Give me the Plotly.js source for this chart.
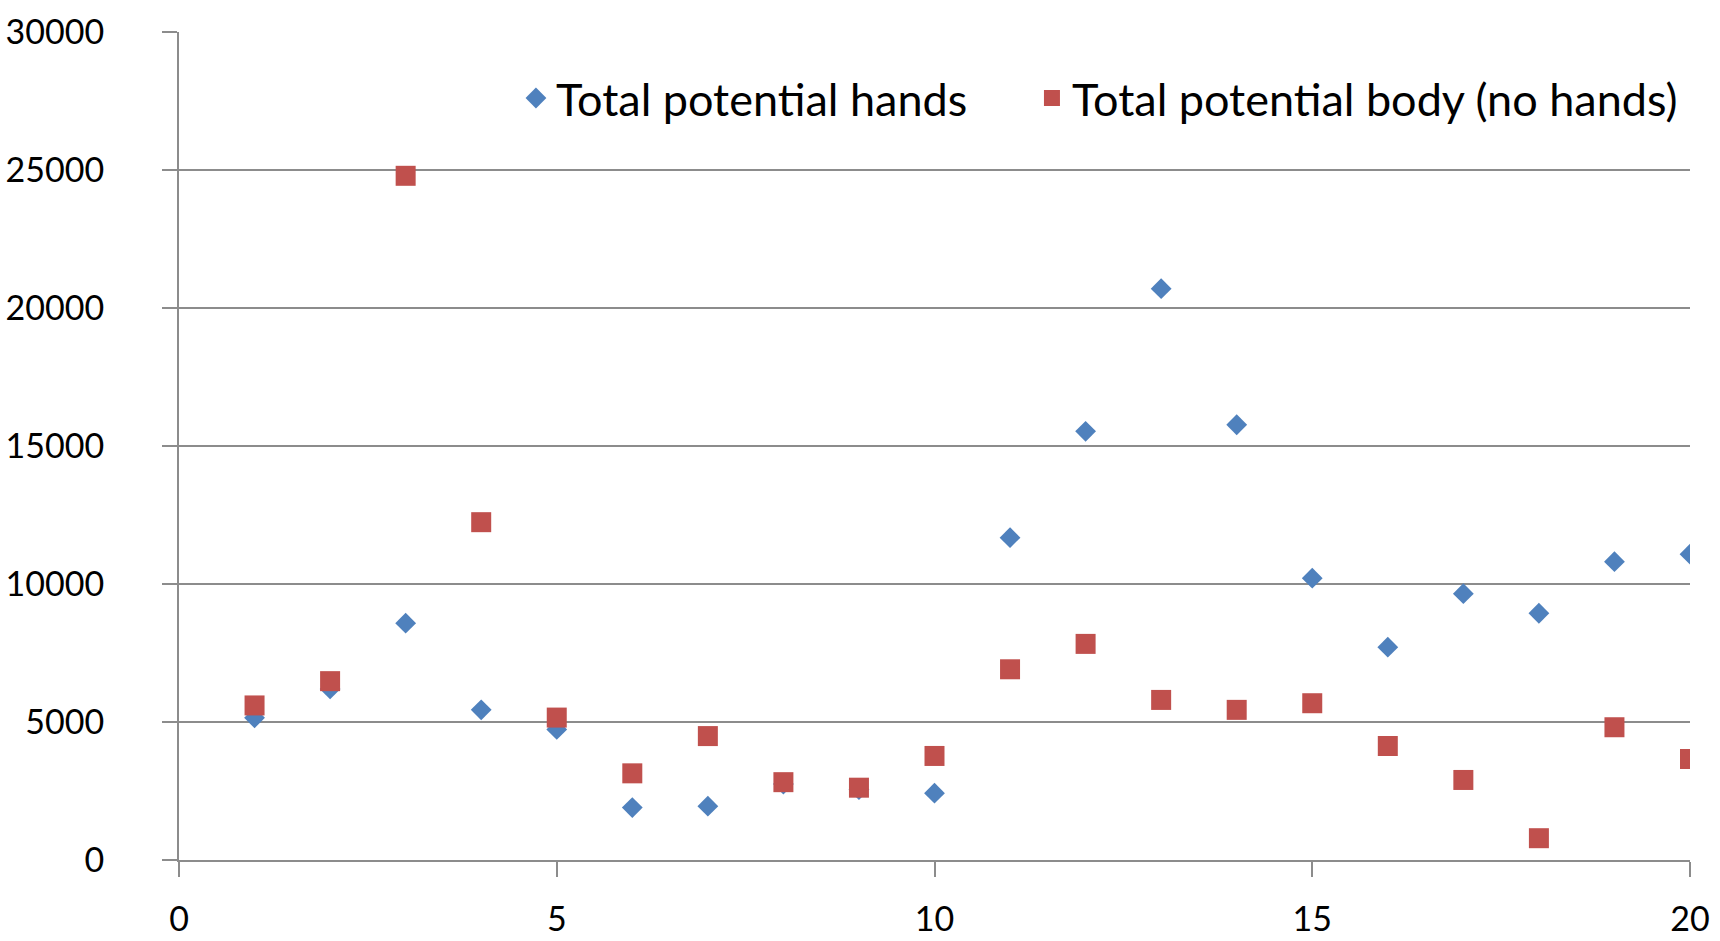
<!DOCTYPE html>
<html>
<head>
<meta charset="utf-8">
<script src="https://cdn.plot.ly/plotly-3.0.1.min.js"></script>
<style>html,body{margin:0;padding:0;background:#fff;}#chart{width:1720px;height:941px;}</style>
</head>
<body>
<div id="chart"></div>
<script>
const xValues = [1,2,3,4,5,6,7,8,9,10,11,12,13,14,15,16,17,18,19,20];
const handsValues = [5150,6200,8580,5440,4730,1900,1950,2750,2550,2420,11680,15530,20700,15770,10210,7710,9650,8940,10810,11080];
const bodyValues = [5600,6480,24790,12240,5160,3140,4490,2820,2620,3770,6910,7830,5800,5440,5680,4130,2900,790,4810,3660];
const seriesNames = ["Total potential hands", "Total potential body (no hands)"];
const yTicks = [0,5000,10000,15000,20000,25000,30000];
const xTicks = [0,5,10,15,20];

const font = "Lato, 'Open Sans', sans-serif";
const legendFont = {family: font, size: 45, color: '#000000'};
const traces = [
  {x: xValues, y: handsValues, name: seriesNames[0], type: 'scatter', mode: 'markers', legend: 'legend',
   marker: {symbol: 'diamond', size: 16, color: '#4F81BD'}},
  {x: xValues, y: bodyValues, name: seriesNames[1], type: 'scatter', mode: 'markers', legend: 'legend2',
   marker: {symbol: 'square', size: 20, color: '#C0504D'}}
];
const layout = {
  width: 1720, height: 941,
  margin: {l: 179, r: 30, t: 32, b: 81},
  paper_bgcolor: '#ffffff', plot_bgcolor: '#ffffff',
  font: {family: font, size: 34, color: '#000000'},
  showlegend: true,
  legend: {orientation: 'h', x: 0.223, xanchor: 'left', y: 0.92, yanchor: 'middle',
           font: legendFont, bgcolor: 'rgba(0,0,0,0)', itemclick: false},
  legend2: {orientation: 'h', x: 0.5645, xanchor: 'left', y: 0.92, yanchor: 'middle',
           font: legendFont, bgcolor: 'rgba(0,0,0,0)', itemclick: false},
  xaxis: {range: [0, 20], tickvals: xTicks, ticktext: xTicks.map(String), showgrid: false, zeroline: false,
          showline: true, linecolor: '#8c8c8c', linewidth: 2, ticks: 'outside', ticklen: 15, tickwidth: 2,
          tickcolor: '#8c8c8c', ticklabelstandoff: 13, fixedrange: true},
  yaxis: {range: [0, 30000], tickvals: yTicks, ticktext: yTicks.map(String), showgrid: true, gridcolor: '#8c8c8c',
          gridwidth: 2, zeroline: false, showline: true, linecolor: '#8c8c8c', linewidth: 2, ticks: 'outside',
          ticklen: 15, tickwidth: 2, tickcolor: '#8c8c8c', ticklabelstandoff: 51, fixedrange: true}
};
Plotly.newPlot('chart', traces, layout, {displayModeBar: false, staticPlot: true});
</script>
</body>
</html>
